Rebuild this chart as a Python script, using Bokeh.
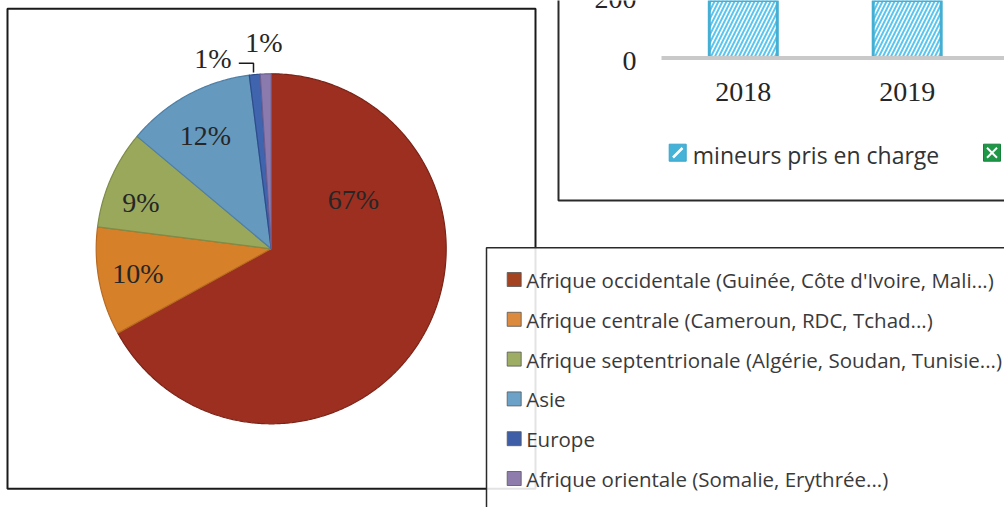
import math
from bokeh.plotting import figure
from bokeh.models import Range1d
from bokeh.core.properties import value
from bokeh.embed import file_html
from bokeh.resources import INLINE

# ---------------- data ----------------
regions = [
    "Afrique occidentale (Guinée, Côte d'Ivoire, Mali...)",
    "Afrique centrale (Cameroun, RDC, Tchad...)",
    "Afrique septentrionale (Algérie, Soudan, Tunisie...)",
    "Asie",
    "Europe",
    "Afrique orientale (Somalie, Erythrée...)",
]
shares = [67.0, 10.0, 9.1, 11.9, 1.0, 1.0]
slice_colors = ["#9C2F20", "#D6802A", "#9AA85C", "#6699BE", "#4064AE", "#8B7AAD"]
slice_edges = ["#7A2418", "#B86A22", "#7E8C47", "#4F7FA6", "#2E4C8C", "#6E5F92"]
legend_colors = ["#A3431F", "#DB8A3E", "#9DAD64", "#6CA2C8", "#3E5FA8", "#8E7DAC"]

years = [2018, 2019]
mineurs = [420, 480]
bar_ticks = [0, 200]
bar_series = ["mineurs pris en charge"]

# ---------------- layout ----------------
W, H = 1004, 507
p = figure(width=W, height=H, output_backend="svg", toolbar_location=None,
           x_axis_location=None, y_axis_location=None, min_border=0,
           x_range=Range1d(0, W), y_range=Range1d(H, 0))
p.grid.visible = False
p.outline_line_color = None
p.background_fill_color = "white"
p.border_fill_color = "white"

# bar-chart scales (partially visible chart at the top right)
zero_px, px_per_unit = 57.5, 0.31
p.extra_y_ranges = {"bar": Range1d(start=(zero_px - H) / px_per_unit,
                                   end=zero_px / px_per_unit)}
x2018_px, px_per_year = 742.8, 163.9
p.extra_x_ranges = {"bar": Range1d(start=years[0] - x2018_px / px_per_year,
                                   end=years[0] + (W - x2018_px) / px_per_year)}

serif = value("Liberation Serif")
sans = value("Open Sans")

# ---------------- pie box ----------------
p.quad(left=[7], right=[535], top=[8.3], bottom=[488.3], fill_color="white",
       line_color="#1a1a1a", line_width=2)

# ---------------- pie ----------------
cx, cy, r = 270.7, 248.3, 175
total = sum(shares)
start = 0.0
xs, ys = [], []
for s in shares:
    a0 = start / total * 2 * math.pi
    a1 = (start + s) / total * 2 * math.pi
    n = max(4, int(math.degrees(a1 - a0) * 2))
    px, py = [cx], [cy]
    for i in range(n + 1):
        t = a0 + (a1 - a0) * i / n
        px.append(cx + r * math.sin(t))
        py.append(cy - r * math.cos(t))
    xs.append(px)
    ys.append(py)
    start += s
p.patches(xs, ys, fill_color=slice_colors, line_color=slice_edges, line_width=1.2)

labels = [f"{round(s)}%" for s in shares]
label_x = [353, 137.3, 140.4, 204.8, 212.5, 263.3]
label_y = [199, 273.3, 202.3, 135, 58.3, 42.3]
p.text(x=label_x, y=label_y, text=labels, text_font=serif, text_font_size="28px",
       text_color="#262626", text_align="center", text_baseline="middle")
p.line(x=[238.3, 253, 253], y=[62.7, 62.7, 72], line_color="#1a1a1a", line_width=1.5)

# ---------------- bar chart (top right, cropped) ----------------
p.line(x=[558, 558, 1010], y=[-10, 200, 200], line_color="#2a2a2a", line_width=2)
p.vbar(x=years, top=mineurs, bottom=0, width=68 / px_per_year,
       x_range_name="bar", y_range_name="bar",
       fill_color="white", hatch_pattern="/", hatch_color="#5CC6EE",
       hatch_scale=8, hatch_weight=2, line_color="#45AFD3", line_width=3)
p.segment(x0=[661], x1=[1010], y0=[0], y1=[0], y_range_name="bar",
          line_color="#C9C9C9", line_width=4)
p.text(x=[636] * len(bar_ticks), y=bar_ticks, text=[str(t) for t in bar_ticks],
       y_range_name="bar", text_font=serif, text_font_size="28px",
       text_color="#262626", text_align="right", text_baseline="middle", y_offset=2.5)
p.text(x=years, y=[0] * len(years), text=[str(y) for y in years],
       x_range_name="bar", y_range_name="bar", y_offset=34,
       text_font=serif, text_font_size="28px", text_color="#262626",
       text_align="center", text_baseline="middle")
# bar legend keys
p.rect(x=[677.2], y=[152.2], width=17, height=17, fill_color="#45B2D8",
       line_color="#3AA4CB", line_width=1)
p.segment(x0=[672.5], y0=[157], x1=[682], y1=[147.5], line_color="white", line_width=2.5)
p.text(x=[692.3], y=[154], text=bar_series, text_font=sans, text_font_size="23px",
       text_color="#333333", text_align="left", text_baseline="middle")
p.rect(x=[991.5], y=[152.2], width=17, height=17, fill_color="#1E9847",
       line_color="#15803A", line_width=1)
p.segment(x0=[986.5, 986.5], y0=[147.2, 157.2], x1=[996.5, 996.5], y1=[157.2, 147.2],
          line_color="white", line_width=2)

# ---------------- legend box ----------------
p.quad(left=[486], right=[1010], top=[247.3], bottom=[520], fill_color="white",
       fill_alpha=0.88, line_color="#2a2a2a", line_width=1.5)
ly = [279 + 39.8 * i for i in range(len(regions))]
p.rect(x=[513.7] * len(regions), y=ly, width=14, height=14,
       fill_color=legend_colors, line_color="#555555", line_width=0.8)
p.text(x=[525.7] * len(regions), y=[v + 0.5 for v in ly], text=regions,
       text_font=sans, text_font_size="20.5px", text_color="#3a3a3a",
       text_align="left", text_baseline="middle")

open("out.html", "w").write(file_html(p, INLINE))
